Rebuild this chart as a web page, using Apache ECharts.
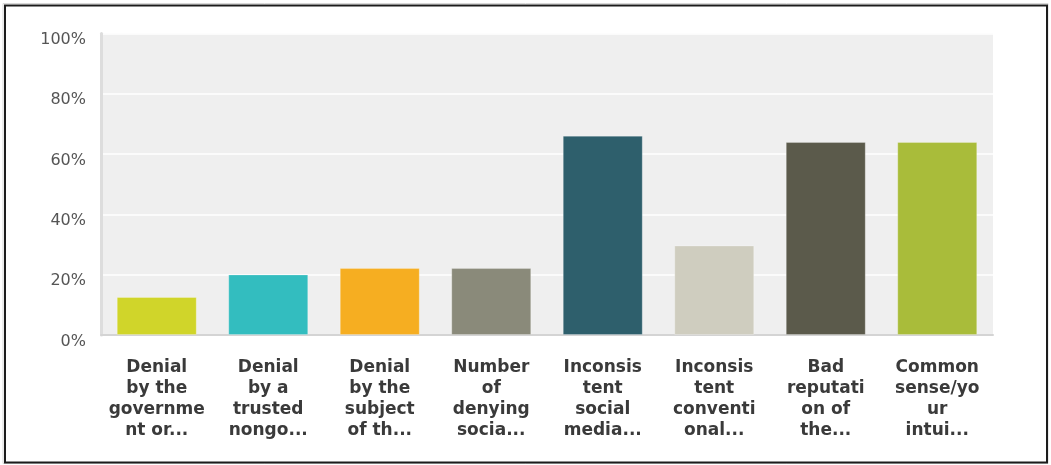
<!DOCTYPE html>
<html>
<head>
<meta charset="utf-8">
<script src="https://cdn.jsdelivr.net/npm/echarts@6/dist/echarts.min.js"></script>
<style>
  html, body { margin: 0; padding: 0; background: #fff; }
  #chart { width: 1051px; height: 465px; }
</style>
</head>
<body>
<div id="chart"></div>
<script>
// Answer options (labels are truncated and wrapped as displayed)
const categories = [
  'Denial\nby the\ngovernme\nnt or...',
  'Denial\nby a\ntrusted\nnongo...',
  'Denial\nby the\nsubject\nof th...',
  'Number\nof\ndenying\nsocia...',
  'Inconsis\ntent\nsocial\nmedia...',
  'Inconsis\ntent\nconventi\nonal...',
  'Bad\nreputati\non of\nthe...',
  'Common\nsense/yo\nur\nintui...'
];

// Share of respondents, percent
const percentages = [12.6, 20.1, 22.2, 22.2, 66.1, 29.7, 64.0, 64.0];

// One colour per answer option
const barColors = ['#d0d52a', '#33bdbf', '#f6ae21', '#8a8a7a', '#2e5f6c', '#cfcdbf', '#5b5a4b', '#a9bc3a'];

// Percent tick values on the value axis
const yTicks = [0, 20, 40, 60, 80, 100];

const chart = echarts.init(document.getElementById('chart'), null, { renderer: 'canvas' });

chart.setOption({
  animation: false,
  backgroundColor: '#ffffff',
  graphic: [
    {
      type: 'rect',
      shape: { x: 3, y: 3.5, width: 1045, height: 460 },
      style: { fill: 'none', stroke: '#d8d8d8', lineWidth: 1 },
      silent: true
    },
    {
      type: 'rect',
      shape: { x: 5, y: 5.5, width: 1042, height: 457 },
      style: { fill: 'none', stroke: '#1c1c1c', lineWidth: 2 },
      silent: true
    }
  ],
  grid: {
    left: 101,
    right: 58,
    top: 33.5,
    bottom: 130,
    show: true,
    backgroundColor: '#efefef',
    borderWidth: 0
  },
  xAxis: {
    type: 'category',
    data: categories,
    axisLine: { show: true, lineStyle: { color: '#d4d4d4', width: 2 } },
    axisTick: { show: false },
    axisLabel: {
      interval: 0,
      margin: 22,
      color: '#3a3a3a',
      fontFamily: 'DejaVu Sans',
      fontWeight: 'bold',
      fontSize: 17,
      lineHeight: 21,
      align: 'center'
    }
  },
  yAxis: {
    type: 'value',
    min: 0,
    max: 100,
    interval: 20,
    axisLine: { show: true, lineStyle: { color: '#dddddd', width: 3 } },
    axisTick: { show: false },
    splitLine: { show: true, lineStyle: { color: '#ffffff', width: 1.5 } },
    axisLabel: {
      margin: 15,
      color: '#555555',
      fontFamily: 'DejaVu Sans',
      fontSize: 16,
      verticalAlign: 'top',
      lineHeight: 13,
      formatter: function (v) {
        return yTicks.indexOf(v) >= 0 ? v + '%' : '';
      }
    }
  },
  series: [
    {
      type: 'bar',
      data: percentages.map(function (v, i) {
        return { value: v, itemStyle: { color: barColors[i] } };
      }),
      barWidth: 80,
      itemStyle: { borderColor: 'rgba(255,255,255,0.25)', borderWidth: 1 }
    }
  ]
});
</script>
</body>
</html>
